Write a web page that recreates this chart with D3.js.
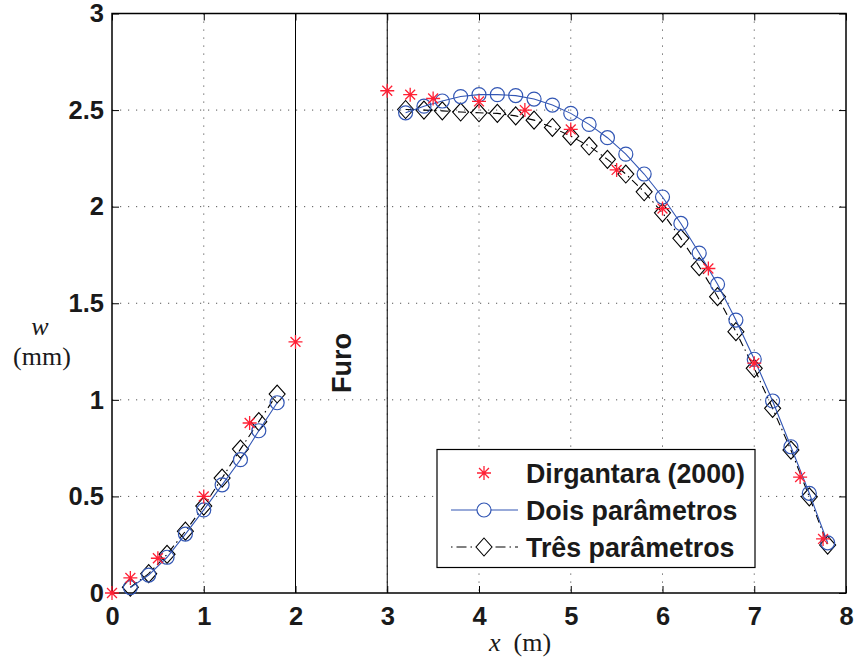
<!DOCTYPE html>
<html>
<head>
<meta charset="utf-8">
<script src="https://cdn.jsdelivr.net/npm/d3@7"></script>
<style>
  body { margin: 0; background: #fff; }
  svg { display: block; }
</style>
</head>
<body>
<div id="chart"></div>
<script>
// Dirgantara (2000) reference points
var refX = [0, 0.2, 0.5, 1.0, 1.5, 2.0, 3.0, 3.25, 3.5, 4.0, 4.5, 5.0, 5.5, 6.0, 6.5, 7.0, 7.5, 7.75];
var refW = [0, 0.078, 0.18, 0.50, 0.88, 1.30, 2.60, 2.58, 2.56, 2.545, 2.50, 2.40, 2.19, 1.99, 1.68, 1.19, 0.60, 0.28];

// two solution branches (left of the hole, right of the hole)
var xLeft = [0.2, 0.4, 0.6, 0.8, 1.0, 1.2, 1.4, 1.6, 1.8];
var xRight = [3.2, 3.4, 3.6, 3.8, 4.0, 4.2, 4.4, 4.6, 4.8, 5.0, 5.2, 5.4, 5.6, 5.8, 6.0,
              6.2, 6.4, 6.6, 6.8, 7.0, 7.2, 7.4, 7.6, 7.8];

var doisLeft = [0.028, 0.093, 0.185, 0.305, 0.43, 0.56, 0.69, 0.84, 0.985];
var doisRight = [2.486, 2.52, 2.547, 2.57, 2.58, 2.58, 2.575, 2.557, 2.526, 2.483, 2.426, 2.357,
                 2.272, 2.169, 2.05, 1.913, 1.76, 1.598, 1.413, 1.21, 0.994, 0.757, 0.516, 0.26];

var tresLeft = [0.03, 0.10, 0.20, 0.32, 0.45, 0.595, 0.745, 0.887, 1.03];
var tresRight = [2.503, 2.50, 2.496, 2.49, 2.486, 2.483, 2.47, 2.448, 2.41, 2.365, 2.314, 2.245,
                 2.169, 2.077, 1.968, 1.836, 1.69, 1.534, 1.353, 1.163, 0.956, 0.74, 0.498, 0.248];

var holeEdges = [2, 3];
var xTicks = [0, 1, 2, 3, 4, 5, 6, 7, 8];
var yTicks = [0, 0.5, 1, 1.5, 2, 2.5, 3];
var legendLabels = ["Dirgantara (2000)", "Dois parâmetros", "Três parâmetros"];

var width = 857, height = 669;
var plotL = 112, plotR = 846, plotT = 13.5, plotB = 593;
var blue = "#3256b4", red = "#ff2035";

var svg = d3.select("#chart").append("svg")
  .attr("width", width)
  .attr("height", height)
  .style("font-family", "'Liberation Sans', Arial, sans-serif");

var x = d3.scaleLinear().domain([0, 8]).range([plotL, plotR]);
var y = d3.scaleLinear().domain([0, 3]).range([plotB, plotT]);

// grid
var grid = svg.append("g")
  .attr("stroke", "#555")
  .attr("stroke-width", 1)
  .attr("stroke-dasharray", "1.2,6.8");
grid.selectAll(".gx").data(xTicks.slice(1, -1)).enter().append("line")
  .attr("x1", function (d) { return x(d); }).attr("x2", function (d) { return x(d); })
  .attr("y1", plotT).attr("y2", plotB);
grid.selectAll(".gy").data(yTicks.slice(1, -1)).enter().append("line")
  .attr("x1", plotL).attr("x2", plotR)
  .attr("y1", function (d) { return y(d); }).attr("y2", function (d) { return y(d); });

// hole boundaries
svg.selectAll(".hole").data(holeEdges).enter().append("line")
  .attr("x1", function (d) { return x(d); }).attr("x2", function (d) { return x(d); })
  .attr("y1", plotT).attr("y2", plotB)
  .attr("stroke", "#000").attr("stroke-width", 1);

// axes with inward ticks
function styleAxis(g, size) {
  g.select(".domain").remove();
  g.selectAll(".tick line").attr("stroke", "#000").attr("stroke-width", 1);
  g.selectAll(".tick text")
    .attr("fill", "#1a1a1a")
    .style("font-size", size + "px")
    .style("font-weight", "bold");
}

svg.append("g").attr("transform", "translate(0," + plotB + ")")
  .call(d3.axisBottom(x).tickValues(xTicks).tickFormat(d3.format("d"))
    .tickSizeInner(-7).tickSizeOuter(0).tickPadding(14))
  .call(styleAxis, 25.5);
svg.append("g").attr("transform", "translate(0," + plotT + ")")
  .call(d3.axisTop(x).tickValues(xTicks).tickFormat("").tickSizeInner(-7).tickSizeOuter(0))
  .call(styleAxis, 25.5);
svg.append("g").attr("transform", "translate(" + plotL + ",0)")
  .call(d3.axisLeft(y).tickValues(yTicks).tickFormat(function (d) { return String(d); })
    .tickSizeInner(-7).tickSizeOuter(0).tickPadding(8))
  .call(styleAxis, 25.5);
svg.append("g").attr("transform", "translate(" + plotR + ",0)")
  .call(d3.axisRight(y).tickValues(yTicks).tickFormat("").tickSizeInner(-7).tickSizeOuter(0))
  .call(styleAxis, 25.5);

svg.append("rect")
  .attr("x", plotL).attr("y", plotT)
  .attr("width", plotR - plotL).attr("height", plotB - plotT)
  .attr("fill", "none").attr("stroke", "#000").attr("stroke-width", 1.5);

// markers
function starPath(r) {
  var a = r * 0.7071;
  return "M" + (-r) + ",0L" + r + ",0M0," + (-r) + "L0," + r +
    "M" + (-a) + "," + (-a) + "L" + a + "," + a + "M" + (-a) + "," + a + "L" + a + "," + (-a);
}
function diamondPath(w, h) {
  return "M0," + (-h) + "L" + w + ",0L0," + h + "L" + (-w) + ",0Z";
}

var line = d3.line()
  .x(function (d) { return x(d[0]); })
  .y(function (d) { return y(d[1]); });

var tresSegs = [d3.zip(xLeft, tresLeft), d3.zip(xRight, tresRight)];
var doisSegs = [d3.zip(xLeft, doisLeft), d3.zip(xRight, doisRight)];

// três parâmetros
svg.selectAll(".tresLine").data(tresSegs).enter().append("path")
  .attr("d", line).attr("fill", "none")
  .attr("stroke", "#000").attr("stroke-width", 1.1)
  .attr("stroke-dasharray", "8,4,1.5,4");
svg.selectAll(".tresPt").data(d3.merge(tresSegs)).enter().append("path")
  .attr("d", diamondPath(8, 9))
  .attr("transform", function (d) { return "translate(" + x(d[0]) + "," + y(d[1]) + ")"; })
  .attr("fill", "none").attr("stroke", "#000").attr("stroke-width", 1.1);

// dois parâmetros
svg.selectAll(".doisLine").data(doisSegs).enter().append("path")
  .attr("d", line).attr("fill", "none")
  .attr("stroke", blue).attr("stroke-width", 1.1);
svg.selectAll(".doisPt").data(d3.merge(doisSegs)).enter().append("circle")
  .attr("cx", function (d) { return x(d[0]); })
  .attr("cy", function (d) { return y(d[1]); })
  .attr("r", 7)
  .attr("fill", "none").attr("stroke", blue).attr("stroke-width", 1.2);

// Dirgantara
svg.selectAll(".refPt").data(d3.zip(refX, refW)).enter().append("path")
  .attr("d", starPath(7))
  .attr("transform", function (d) { return "translate(" + x(d[0]) + "," + y(d[1]) + ")"; })
  .attr("fill", "none").attr("stroke", red).attr("stroke-width", 1.3);

// hole label
svg.append("text")
  .attr("transform", "translate(351," + 363 + ") rotate(-90)")
  .attr("text-anchor", "middle")
  .style("font-size", "27px").style("font-weight", "bold")
  .attr("fill", "#1a1a1a")
  .text("Furo");

// axis labels
var serif = "'Liberation Serif', 'Times New Roman', serif";
var xl = svg.append("text")
  .attr("x", 520).attr("y", 651)
  .attr("text-anchor", "middle")
  .style("font-family", serif).style("font-size", "26px")
  .attr("fill", "#1a1a1a");
xl.append("tspan").style("font-style", "italic").text("x");
xl.append("tspan").text("\u2002(m)");

svg.append("text")
  .attr("x", 40).attr("y", 335)
  .attr("text-anchor", "middle")
  .style("font-family", serif).style("font-size", "26px").style("font-style", "italic")
  .attr("fill", "#1a1a1a")
  .text("w");
svg.append("text")
  .attr("x", 42).attr("y", 365)
  .attr("text-anchor", "middle")
  .style("font-family", serif).style("font-size", "26px")
  .attr("fill", "#1a1a1a")
  .text("(mm)");

// legend
var leg = svg.append("g");
leg.append("rect")
  .attr("x", 437).attr("y", 449.5)
  .attr("width", 318).attr("height", 118)
  .attr("fill", "#fff").attr("stroke", "#000").attr("stroke-width", 1.2);

var rowY = [473, 510, 547];
var items = leg.selectAll(".item").data(legendLabels).enter().append("g")
  .attr("transform", function (d, i) { return "translate(0," + rowY[i] + ")"; });

items.append("text")
  .attr("x", 526).attr("y", 9.5)
  .style("font-size", "26.8px").style("font-weight", "bold")
  .attr("fill", "#1a1a1a")
  .text(function (d) { return d; });

items.filter(function (d, i) { return i === 0; }).append("path")
  .attr("d", starPath(7)).attr("transform", "translate(484,0)")
  .attr("fill", "none").attr("stroke", red).attr("stroke-width", 1.3);

var doisLeg = items.filter(function (d, i) { return i === 1; });
doisLeg.append("line").attr("x1", 451).attr("x2", 518).attr("y1", 0).attr("y2", 0)
  .attr("stroke", blue).attr("stroke-width", 1.1);
doisLeg.append("circle").attr("cx", 484).attr("cy", 0).attr("r", 7)
  .attr("fill", "#fff").attr("stroke", blue).attr("stroke-width", 1.2);

var tresLeg = items.filter(function (d, i) { return i === 2; });
tresLeg.append("line").attr("x1", 451).attr("x2", 518).attr("y1", 0).attr("y2", 0)
  .attr("stroke", "#000").attr("stroke-dasharray", "1.5,4,10,4");
tresLeg.append("path").attr("d", diamondPath(8, 9)).attr("transform", "translate(484,0)")
  .attr("fill", "#fff").attr("stroke", "#000").attr("stroke-width", 1.1);
</script>
</body>
</html>
